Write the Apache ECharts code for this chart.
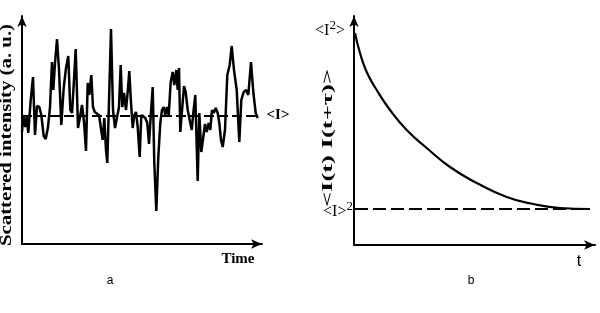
<!DOCTYPE html>
<html>
<head>
<meta charset="utf-8">
<script src="https://cdn.jsdelivr.net/npm/echarts@6/dist/echarts.min.js"></script>
<style>
html,body{margin:0;padding:0;background:#fff;}
#main{width:600px;height:313px;}
</style>
</head>
<body>
<div id="main"></div>
<script>
// panel a : scattered intensity vs time
var timeA = [0, 1.3, 3.3, 4.7, 6.3, 8.7, 11, 13, 15, 17.3, 19.3, 21.7, 23.7, 26, 28, 30, 31.3, 33, 35, 37,
	39.3, 41.7, 44, 46.3, 48.3, 50, 51.7, 53.7, 56, 58, 60, 62, 64, 65.7, 67.3, 69.3, 71, 72.7, 74.7, 77,
	79, 80.7, 82.3, 84, 85.3, 87, 89, 91, 93, 95, 97, 98.7, 100.3, 102, 104, 105.7, 107.3, 109, 110.7, 112.3,
	114, 115.7, 117.7, 119.3, 121.3, 123.3, 125.3, 127, 129, 130.7, 132.3, 134.3, 136.3, 138.3, 140, 141.7, 143.3, 145, 146.7, 148.7,
	150.7, 152.3, 154.3, 155.7, 157, 158.3, 160.3, 162, 163.7, 165.7, 167.7, 169.7, 171.3, 173.3, 175.7, 177.3, 179.3, 181.3, 183, 184.7,
	186.7, 188.3, 190, 191.7, 193.7, 195.7, 197.3, 199, 200.7, 203, 205.3, 207.7, 209.7, 212, 214.7, 217.3, 219.3, 221.7, 224, 226.3,
	229, 231.3, 233.7, 235.7];
var intensityA = [112, 129, 117, 127, 111, 144, 167, 109, 138, 137, 129, 108, 105, 117, 137, 182, 154, 181, 205, 174,
	119, 156, 176, 188, 134, 131, 159, 195, 116, 127, 139, 122, 93, 161, 149, 169, 137, 132, 132, 129,
	129, 104, 126, 94, 81, 79, 215, 134, 116, 116, 137, 179, 137, 151, 134, 152, 173, 141, 116, 129,
	132, 117, 87, 129, 131, 126, 121, 100, 132, 157, 81, 33, 87, 121, 134, 137, 129, 137, 129, 162,
	172, 159, 174, 154, 176, 112, 112, 158, 152, 134, 124, 114, 131, 149, 63, 131, 92, 107, 120, 112,
	121, 114, 134, 131, 136, 131, 121, 104, 97, 114, 169, 179, 198, 174, 154, 102, 144, 152, 154, 149,
	182, 152, 131, 126];
var meanA = 128;

// panel b : intensity autocorrelation
var tauB = [1, 6, 12.7, 22.7, 36, 52.7, 72.7, 96, 122.7, 152.7, 179.3, 206, 236];
var corrB = [212, 192, 173, 155, 135, 115, 97, 78, 62, 48, 41, 37, 36];
var baseB = 36;

function pairs(xs, ys){
	var out = [];
	for(var i=0;i<xs.length;i++){
		out.push([xs[i], ys[i]]);
	}
	return out;
}

var axisStyle = {show:true, symbol:['none','arrow'], symbolSize:[7,11], lineStyle:{color:'#000', width:2}};
// rich styles for the superscript labels
var supRich = {
	n:{fontFamily:'Liberation Serif', fontSize:16, lineHeight:20, verticalAlign:'bottom', fill:'#000'},
	s:{fontFamily:'Liberation Serif', fontSize:13, lineHeight:20, verticalAlign:'top', fill:'#000'}
};

var myChart = echarts.init(document.getElementById('main'));
var option = {
	backgroundColor:'#fff',
	animation:false,
	grid:[
		{left:22, top:16, width:240, height:228},
		{left:354, top:16, width:241, height:229}
	],
	xAxis:[
		{gridIndex:0, type:'value', min:0, max:240, axisLine:axisStyle, axisTick:{show:false}, axisLabel:{show:false}, splitLine:{show:false}},
		{gridIndex:1, type:'value', min:0, max:241, axisLine:axisStyle, axisTick:{show:false}, axisLabel:{show:false}, splitLine:{show:false}}
	],
	yAxis:[
		{gridIndex:0, type:'value', min:0, max:228, axisLine:axisStyle, axisTick:{show:false}, axisLabel:{show:false}, splitLine:{show:false}},
		{gridIndex:1, type:'value', min:0, max:229, axisLine:axisStyle, axisTick:{show:false}, axisLabel:{show:false}, splitLine:{show:false}}
	],
	series:[
		{
			type:'line', xAxisIndex:0, yAxisIndex:0, symbol:'none',
			data:pairs([0, 236], [meanA, meanA]),
			lineStyle:{color:'#000', width:2, type:[10,4]}
		},
		{
			type:'line', xAxisIndex:0, yAxisIndex:0, symbol:'none',
			data:pairs(timeA, intensityA),
			lineStyle:{color:'#000', width:2.5}
		},
		{
			type:'line', xAxisIndex:1, yAxisIndex:1, symbol:'none',
			data:pairs([1, 236], [baseB, baseB]),
			lineStyle:{color:'#000', width:2, type:[13,5]}
		},
		{
			type:'line', xAxisIndex:1, yAxisIndex:1, symbol:'none', smooth:true,
			data:pairs(tauB, corrB),
			lineStyle:{color:'#000', width:2.2}
		}
	],
	graphic:[
		{type:'text', x:7, y:135, rotation:Math.PI/2, scaleX:1.3, style:{text:'Scattered intensity (a. u.)', font:'bold 16px "Liberation Serif"', fill:'#000', align:'center', verticalAlign:'middle'}},
		{type:'text', x:238, y:259, style:{text:'Time', font:'bold 15px "Liberation Serif"', fill:'#000', align:'center', verticalAlign:'middle'}},
		{type:'text', x:278, y:115, style:{text:'<I>', font:'bold 15px "Liberation Serif"', fill:'#000', align:'center', verticalAlign:'middle'}},
		{type:'text', x:110, y:281, style:{text:'a', font:'12px "Liberation Sans"', fill:'#000', align:'center', verticalAlign:'middle'}},
		{type:'text', x:328, y:138, rotation:Math.PI/2, scaleX:1.9, style:{text:'<I(t) I(t+τ)>', font:'bold 14px "Liberation Serif"', fill:'#000', align:'center', verticalAlign:'middle'}},
		{type:'text', x:330, y:29, style:{text:'{n|<I}{s|2}{n|>}', rich:supRich, align:'center', verticalAlign:'middle'}},
		{type:'text', x:338, y:210, style:{text:'{n|<I>}{s|2}', rich:supRich, align:'center', verticalAlign:'middle'}},
		{type:'text', x:579, y:262, style:{text:'t', font:'16px "Liberation Sans"', fill:'#000', align:'center', verticalAlign:'middle'}},
		{type:'text', x:471, y:281, style:{text:'b', font:'12px "Liberation Sans"', fill:'#000', align:'center', verticalAlign:'middle'}}
	]
};
myChart.setOption(option);
</script>
</body>
</html>
